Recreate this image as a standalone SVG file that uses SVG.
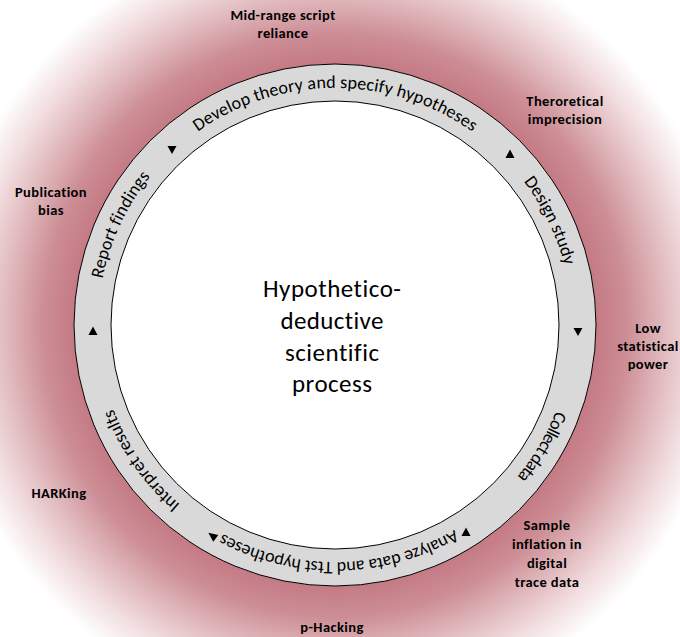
<svg xmlns="http://www.w3.org/2000/svg" xmlns:xlink="http://www.w3.org/1999/xlink" width="680" height="637" viewBox="0 0 680 637">
<defs>
<radialGradient id="glow" gradientUnits="userSpaceOnUse" cx="335" cy="325" r="395">
<stop offset="0.66" stop-color="#c47a84"/>
<stop offset="0.74" stop-color="#cd8e96"/>
<stop offset="0.82" stop-color="#deb4b8"/>
<stop offset="0.91" stop-color="#f1dcde"/>
<stop offset="1" stop-color="#ffffff"/>
</radialGradient>
<path id="arc" d="M 572 325 A 237 237 0 1 1 98 325 A 237 237 0 1 1 572 325"/>
</defs>
<style>
.ring{font-family:Carlito,Lato,"Noto Sans",sans-serif;font-size:18px;fill:#000;font-variant-ligatures:none}
.lbl{font-family:Carlito,Lato,"Noto Sans",sans-serif;font-size:14.5px;letter-spacing:0.4px;font-weight:bold;fill:#000;text-anchor:middle;font-variant-ligatures:none}
.ctr{font-family:Carlito,Lato,"Noto Sans",sans-serif;font-size:25px;fill:#000;text-anchor:middle;font-variant-ligatures:none}
.tri{fill:#000}
</style>
<rect x="0" y="0" width="680" height="637" fill="#ffffff"/>
<circle cx="335" cy="325" r="395" fill="url(#glow)"/>
<g id="ring">
<circle cx="335" cy="325" r="261" fill="#d9d9d9" stroke="#000" stroke-width="1"/>
<circle cx="335" cy="325" r="224" fill="#ffffff" stroke="#000" stroke-width="1"/>
</g>
<g id="step-develop"><text class="ring" text-anchor="middle"><textPath xlink:href="#arc" href="#arc" startOffset="1116.8" textLength="293">Develop theory and specify hypotheses</textPath></text></g>
<g id="step-design"><text class="ring" text-anchor="middle"><textPath xlink:href="#arc" href="#arc" startOffset="1381.6" textLength="94">Design study</textPath></text></g>
<g id="step-collect"><text class="ring" text-anchor="middle"><textPath xlink:href="#arc" href="#arc" startOffset="126.2" textLength="77">Collect data</textPath></text></g>
<g id="step-analyze"><text class="ring" text-anchor="middle"><textPath xlink:href="#arc" href="#arc" startOffset="368.1" textLength="242">Analyze data and Ttst hypotheses</textPath></text></g>
<g id="step-interpret"><text class="ring" text-anchor="middle"><textPath xlink:href="#arc" href="#arc" startOffset="599.8" textLength="118">Interpret results</textPath></text></g>
<g id="step-report"><text class="ring" text-anchor="middle"><textPath xlink:href="#arc" href="#arc" startOffset="848" textLength="114">Report findings</textPath></text></g>
<g id="connectors">
<polygon class="tri" points="167.5,146 176.5,146 172,154"/>
<polygon class="tri" points="510,149.5 505.5,158 514.5,158"/>
<polygon class="tri" points="573.5,328 582.5,328 578,336"/>
<polygon class="tri" points="466,527.5 461.5,536 470.5,536"/>
<polygon class="tri" points="208.3,532.7 218.3,535 213.3,541.7"/>
<polygon class="tri" points="93,326.5 88.5,335 97.5,335"/>
</g>
<g id="center">
<text class="ctr" x="332" y="297" textLength="138">Hypothetico-</text>
<text class="ctr" x="332" y="329" textLength="103">deductive</text>
<text class="ctr" x="332" y="361" textLength="94">scientific</text>
<text class="ctr" x="332" y="392" textLength="80">process</text>
</g>
<g id="issue-midrange"><text class="lbl" x="283" y="20">Mid-range script</text><text class="lbl" x="283" y="38">reliance</text></g>
<g id="issue-theoretical"><text class="lbl" x="565" y="106">Theroretical</text><text class="lbl" x="565" y="124">imprecision</text></g>
<g id="issue-publication"><text class="lbl" x="51" y="197">Publication</text><text class="lbl" x="51" y="215">bias</text></g>
<g id="issue-power"><text class="lbl" x="648" y="333">Low</text><text class="lbl" x="648" y="351">statistical</text><text class="lbl" x="648" y="369">power</text></g>
<g id="issue-harking"><text class="lbl" x="59" y="498">HARKing</text></g>
<g id="issue-sample"><text class="lbl" x="547" y="530">Sample</text><text class="lbl" x="547" y="549">inflation in</text><text class="lbl" x="547" y="568">digital</text><text class="lbl" x="547" y="587">trace data</text></g>
<g id="issue-phacking"><text class="lbl" x="332" y="632">p-Hacking</text></g>
</svg>
